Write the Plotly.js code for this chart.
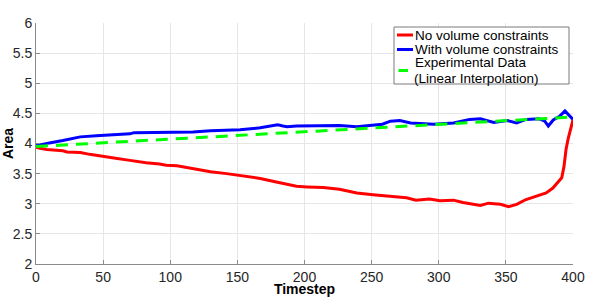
<!DOCTYPE html>
<html>
<head>
<meta charset="utf-8">
<script src="https://cdn.plot.ly/plotly-3.0.1.min.js"></script>
<style>
html,body{margin:0;padding:0;background:#fff;}
#chart{width:598px;height:297px;}
</style>
</head>
<body>
<div id="chart"></div>
<script>
// ---- data ----
const redT = [0,3,8,15,20,23,33,40,45,58,70,82,92,97,105,117,130,142,152,160,167,179,189,194,202,214,226,239,251,264,276,283,287,293,301,311,318,331,337,346,352,358,365,373,380,385,389,391.6,393.3,394.8,396.5,398.3,400];
const redV = [3.94,3.92,3.90,3.89,3.88,3.86,3.85,3.82,3.80,3.76,3.72,3.68,3.66,3.64,3.63,3.58,3.53,3.50,3.47,3.45,3.42,3.36,3.32,3.29,3.28,3.27,3.24,3.18,3.15,3.13,3.10,3.06,3.07,3.08,3.05,3.06,3.02,2.97,3.01,2.99,2.95,2.99,3.07,3.13,3.18,3.26,3.37,3.43,3.62,3.90,4.09,4.23,4.39];

const blueT = [0,5,10,20,33,45,58,70,73,95,105,117,130,142,152,167,180,184,187,194,202,214,226,239,251,258,264,271,279,286,296,311,323,331,341,351,358,365,375,379,381.6,385.3,390,394,396.5,400];
const blueV = [3.96,3.99,4.01,4.05,4.11,4.13,4.14,4.16,4.18,4.18,4.18,4.19,4.21,4.22,4.23,4.26,4.31,4.29,4.28,4.29,4.29,4.30,4.30,4.28,4.30,4.32,4.37,4.38,4.34,4.33,4.32,4.34,4.40,4.41,4.35,4.38,4.34,4.40,4.41,4.37,4.29,4.39,4.45,4.54,4.48,4.40];

const expT = [0,400];
const expV = [3.95,4.44];

const seriesNames = ["No volume constraints","With volume constraints","Experimental Data","(Linear Interpolation)"];
const xTicks = [0,50,100,150,200,250,300,350,400];
const yTicks = [2,2.5,3,3.5,4,4.5,5,5.5,6];
const yTickText = ["2","2.5","3","3.5","4","4.5","5","5.5","6"];

// ---- geometry helpers (plot area in px) ----
const L = 36, R = 573, T = 23, B = 264;
const px = v => (v - L) / (R - L);
const py = v => (B - v) / (B - T);

const FONT = "Liberation Sans, Arial, sans-serif";

const traces = [
  {x: redT, y: redV, name: seriesNames[0], mode: "lines", line: {color: "#ff0000", width: 3}},
  {x: blueT, y: blueV, name: seriesNames[1], mode: "lines", line: {color: "#0000ff", width: 3}},
  {x: expT, y: expV, name: seriesNames[2] + " " + seriesNames[3], mode: "lines", line: {color: "#00ff00", width: 3, dash: "12px,8px"}}
];

const legendShapes = [
  {type: "rect", xref: "paper", yref: "paper", x0: px(394), x1: px(569), y0: py(84), y1: py(27),
   line: {color: "#7a7a7a", width: 1}, fillcolor: "#ffffff", layer: "above"},
  {type: "line", xref: "paper", yref: "paper", x0: px(397), x1: px(413), y0: py(35), y1: py(35),
   line: {color: "#ff0000", width: 3}, layer: "above"},
  {type: "line", xref: "paper", yref: "paper", x0: px(397), x1: px(413), y0: py(49.5), y1: py(49.5),
   line: {color: "#0000ff", width: 3}, layer: "above"},
  {type: "line", xref: "paper", yref: "paper", x0: px(398.5), x1: px(408), y0: py(70.5), y1: py(70.5),
   line: {color: "#00ff00", width: 3}, layer: "above"}
];

function legText(str, xp, yp) {
  return {text: str, xref: "paper", yref: "paper", x: px(xp), y: py(yp), xanchor: "left", yanchor: "middle",
          showarrow: false, borderpad: 0, font: {family: FONT, size: 13.5, color: "#000000"}};
}

const annotations = [
  legText(seriesNames[0], 414, 35),
  legText(seriesNames[1], 414, 49.5),
  legText(seriesNames[2], 414, 63),
  legText(seriesNames[3], 412.5, 78.5)
];

const axisCommon = {
  showgrid: true, gridcolor: "#e6e6e6", gridwidth: 1,
  showline: true, linecolor: "#8a8a8a", linewidth: 1,
  ticks: "inside", ticklen: 4, tickcolor: "#8a8a8a", tickwidth: 1,
  zeroline: false, mirror: false,
  tickfont: {family: FONT, size: 14, color: "#262626"}
};

const layout = {
  width: 598, height: 297,
  margin: {l: L, r: 598 - R, t: T, b: 297 - B},
  paper_bgcolor: "#ffffff", plot_bgcolor: "#ffffff",
  showlegend: false,
  font: {family: FONT, size: 14, color: "#262626"},
  xaxis: Object.assign({}, axisCommon, {
    range: [0, 400], tickmode: "array", tickvals: xTicks, ticktext: xTicks.map(String),
    title: {text: "<b>Timestep</b>", font: {family: FONT, size: 14, color: "#000000"}, standoff: 4}
  }),
  yaxis: Object.assign({}, axisCommon, {
    range: [2, 6], tickmode: "array", tickvals: yTicks, ticktext: yTickText,
    title: {text: "<b>Area</b>", font: {family: FONT, size: 14, color: "#000000"}, standoff: 2}
  }),
  shapes: legendShapes,
  annotations: annotations
};

Plotly.newPlot("chart", traces, layout, {staticPlot: true, displayModeBar: false});
</script>
</body>
</html>
